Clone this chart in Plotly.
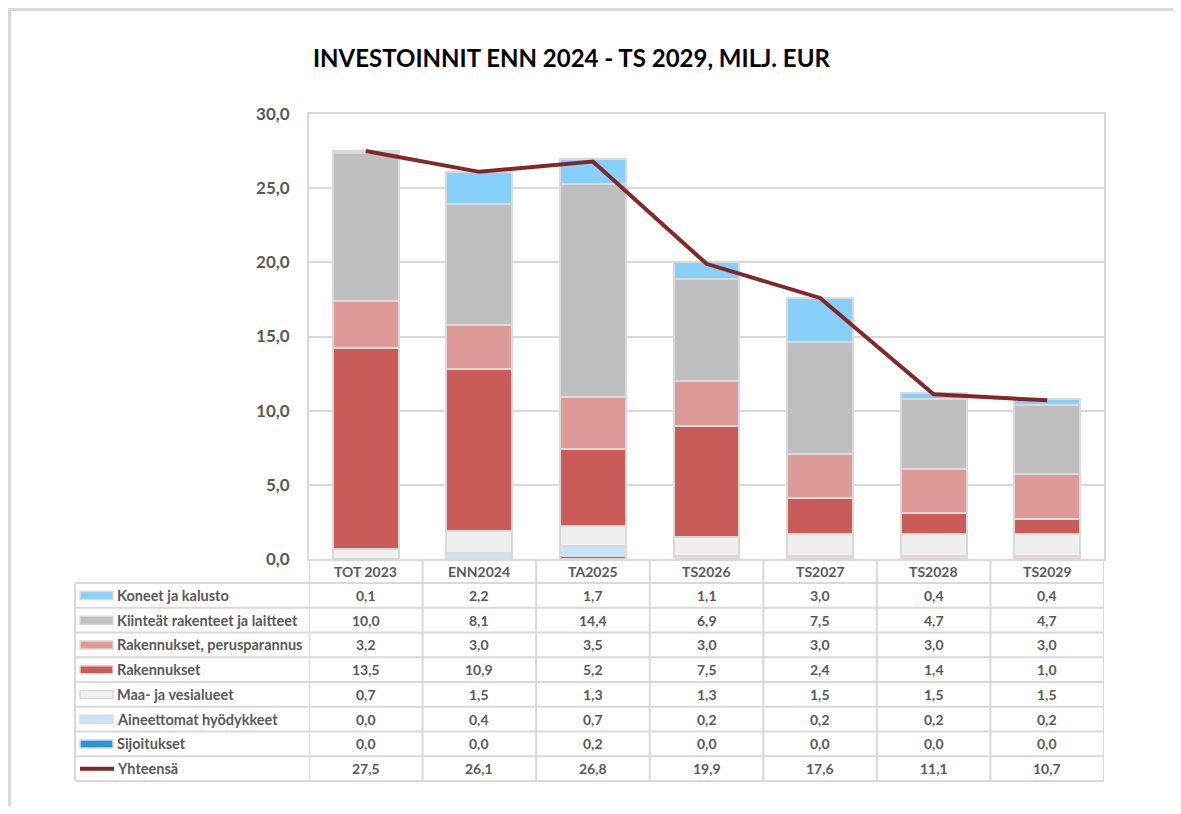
import plotly.graph_objects as go

# data (milj. EUR)
categories = ["TOT 2023", "ENN2024", "TA2025", "TS2026", "TS2027", "TS2028", "TS2029"]
koneet = [0.1, 2.2, 1.7, 1.1, 3.0, 0.4, 0.4]
kiinteat = [10.0, 8.1, 14.4, 6.9, 7.5, 4.7, 4.7]
perusparannus = [3.2, 3.0, 3.5, 3.0, 3.0, 3.0, 3.0]
rakennukset = [13.5, 10.9, 5.2, 7.5, 2.4, 1.4, 1.0]
maa_vesi = [0.7, 1.5, 1.3, 1.3, 1.5, 1.5, 1.5]
aineettomat = [0.0, 0.4, 0.7, 0.2, 0.2, 0.2, 0.2]
sijoitukset = [0.0, 0.0, 0.2, 0.0, 0.0, 0.0, 0.0]
yhteensa = [27.5, 26.1, 26.8, 19.9, 17.6, 11.1, 10.7]

TITLE = "INVESTOINNIT ENN 2024 - TS 2029, MILJ. EUR"

# table order (top row first): name, values, fill, edge
series = [
    ("Koneet ja kalusto", koneet, "#87D0FC", "#D9D9D9"),
    ("Kiinteät rakenteet ja laitteet", kiinteat, "#BFBFBF", "#D9D9D9"),
    ("Rakennukset, perusparannus", perusparannus, "#DE9A98", "#D9D9D9"),
    ("Rakennukset", rakennukset, "#C95B58", "#D9D9D9"),
    ("Maa- ja vesialueet", maa_vesi, "#F0F0F0", "#D9D9D9"),
    ("Aineettomat hyödykkeet", aineettomat, "#C4E6F8", "#EED3D6"),
    ("Sijoitukset", sijoitukset, "#2E93DD", "#D9D9D9"),
]
LINE_COLOR = "#812828"
TEXT = "#595959"
GRID = "#D9D9D9"
FONT = "Lato"

# page body keeps an 8px margin, so the figure is a bit smaller than the window
OFF = 8
W, H = 1181 - 2 * OFF, 814 - 2 * OFF


def px(v):
    # window pixel -> paper x
    return (v - OFF) / W


def py(v):
    # window pixel -> paper y
    return 1 - (v - OFF) / H


fig = go.Figure()

# stacked from the bottom: reverse of table order
for name, vals, fill, edge in reversed(series):
    fig.add_trace(go.Bar(
        x=categories, y=vals, name=name, width=0.58,
        marker=dict(color=fill, line=dict(color=edge, width=2)),
    ))

fig.add_trace(go.Scatter(
    x=categories, y=yhteensa, name="Yhteensä", mode="lines",
    line=dict(color=LINE_COLOR, width=4),
))

shapes = []
annotations = []

# outer frame (only top and left edges visible)
shapes.append(dict(type="line", xref="paper", yref="paper", x0=0, x1=1,
                   y0=py(9.5), y1=py(9.5), line=dict(color=GRID, width=3)))
shapes.append(dict(type="line", xref="paper", yref="paper", x0=px(9.5), x1=px(9.5),
                   y0=py(9.5), y1=0, line=dict(color=GRID, width=3)))

# data table under the plot
header_top, header_bot = 559, 583
row_h = 24.75
n_rows = len(series) + 1
table_bot = header_bot + row_h * n_rows
tbl_left, tbl_right = 75, 1104

for k in range(len(categories) + 1):
    shapes.append(dict(type="line", xref="x", yref="paper", x0=k - 0.5, x1=k - 0.5,
                       y0=py(header_top), y1=py(table_bot),
                       line=dict(color=GRID, width=2)))
shapes.append(dict(type="line", xref="paper", yref="paper", x0=px(tbl_left), x1=px(tbl_left),
                   y0=py(header_bot), y1=py(table_bot), line=dict(color=GRID, width=2)))
for r in range(n_rows + 1):
    yy = py(header_bot + r * row_h)
    shapes.append(dict(type="line", xref="paper", yref="paper", x0=px(tbl_left), x1=px(tbl_right),
                       y0=yy, y1=yy, line=dict(color=GRID, width=2)))

cell_font = dict(family=FONT, size=14, color=TEXT, weight="bold")

for cat in categories:
    annotations.append(dict(x=cat, xref="x", y=py((header_top + header_bot) / 2), yref="paper",
                            text=cat, showarrow=False, font=cell_font,
                            xanchor="center", yanchor="middle"))

rows = [(n, v, f, e) for n, v, f, e in series] + [("Yhteensä", yhteensa, None, None)]
for i, (name, vals, fill, edge) in enumerate(rows):
    cy = header_bot + row_h * (i + 0.5)
    if fill is None:
        shapes.append(dict(type="line", xref="paper", yref="paper", x0=px(80), x1=px(114),
                           y0=py(cy), y1=py(cy), line=dict(color=LINE_COLOR, width=4)))
    else:
        shapes.append(dict(type="rect", xref="paper", yref="paper", x0=px(80), x1=px(113),
                           y0=py(cy + 4), y1=py(cy - 4), fillcolor=fill,
                           line=dict(color=edge, width=1.5)))
    annotations.append(dict(x=px(115), xref="paper", y=py(cy), yref="paper", text=name,
                            showarrow=False, font=dict(cell_font, size=14.5),
                            xanchor="left", yanchor="middle"))
    for cat, v in zip(categories, vals):
        annotations.append(dict(x=cat, xref="x", y=py(cy), yref="paper",
                                text=f"{v:.1f}".replace(".", ","), showarrow=False,
                                font=cell_font, xanchor="center", yanchor="middle"))

annotations.append(dict(x=px(571), xref="paper", y=py(58), yref="paper", text=TITLE,
                        showarrow=False, xanchor="center", yanchor="middle",
                        font=dict(family=FONT, size=24, color="#000000", weight="bold")))

fig.update_layout(
    width=W, height=H,
    margin=dict(l=0, r=0, t=0, b=0),
    paper_bgcolor="white", plot_bgcolor="white",
    barmode="stack", showlegend=False,
    separators=",.",
    shapes=shapes, annotations=annotations,
    xaxis=dict(domain=[px(309), px(1104)], range=[-0.5, 6.5], showticklabels=False,
               showgrid=False, zeroline=False, showline=True, mirror=True,
               linecolor=GRID, linewidth=2, fixedrange=True, automargin=False),
    yaxis=dict(domain=[py(559), py(114)], range=[0, 30], dtick=5, tickformat=".1f",
               showgrid=True, gridcolor=GRID, gridwidth=2, zeroline=False,
               showline=True, mirror=True, linecolor=GRID, linewidth=2,
               ticklabelstandoff=14, automargin=False,
               tickfont=dict(family=FONT, size=17, color=TEXT, weight="bold")),
)

fig.write_html("out.html")
